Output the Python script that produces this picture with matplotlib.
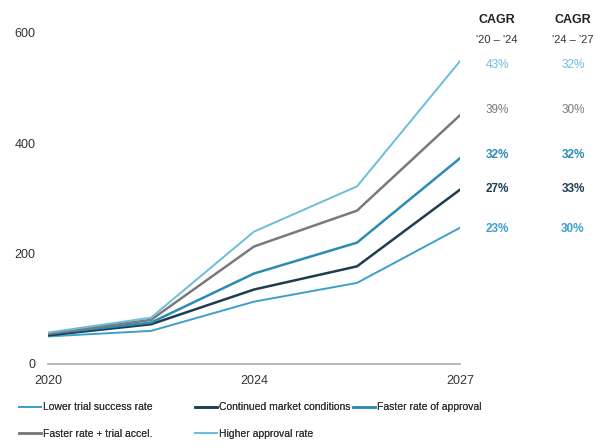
import numpy as np
import matplotlib.pyplot as plt

plt.rcParams['font.family'] = ['Liberation Sans', 'DejaVu Sans']

# %%
# points on an even spacing, labelled 2020 / 2024 / 2027
x_idx = [0, 1, 2, 3, 4]
tick_pos = [0, 2, 4]
tick_labels = ['2020', '2024', '2027']

names = ['Lower trial success rate', 'Continued market conditions',
         'Faster rate of approval', 'Faster rate + trial accel.',
         'Higher approval rate']
lower = [50, 60, 113, 147, 247]
continued = [52, 72, 135, 177, 316]
faster = [55, 75, 164, 220, 373]
faster_trial = [55, 80, 213, 278, 451]
higher = [57, 84, 240, 322, 549]
series = [lower, continued, faster, faster_trial, higher]

colors = ['#3d9fca', '#1d3d52', '#2a8cb4', '#7a7a7a', '#6cbddb']
widths = [1.4, 1.8, 1.8, 1.8, 1.4]

cagr_20_24 = ['23%', '27%', '32%', '39%', '43%']
cagr_24_27 = ['30%', '33%', '32%', '30%', '32%']
label_y = [229, 189, 155, 110, 65]   # pixel rows of the CAGR labels
label_bold = [True, True, True, False, False]

# %%
fig = plt.figure(figsize=(5.96, 4.47), dpi=100)
W, H = 596, 447
ax = fig.add_axes([48 / W, 1 - 364 / H, 412 / W, 331 / H])

handles = []
for vals, c, lw, name in zip(series, colors, widths, names):
    h, = ax.plot(x_idx, vals, color=c, lw=lw, label=name)
    handles.append(h)

ax.set_xlim(0, 4)
ax.set_ylim(0, 600)
ax.set_yticks([0, 200, 400, 600])
ax.set_xticks(tick_pos)
ax.set_xticklabels(tick_labels)
for s in ['top', 'right', 'left']:
    ax.spines[s].set_visible(False)
ax.spines['bottom'].set_color('#aaaaaa')
ax.spines['bottom'].set_linewidth(1.2)
ax.tick_params(axis='both', length=0, labelsize=9, colors='#333333')
ax.tick_params(axis='x', pad=8)
ax.tick_params(axis='y', pad=9)
ax.patch.set_alpha(0)

# CAGR columns
for cx, sub in [(497, "'20 \u2013 '24"), (573, "'24 \u2013 '27")]:
    fig.text(cx / W, 1 - 20 / H, 'CAGR', ha='center', va='center',
             fontsize=9, fontweight='bold', color='#222222')
    fig.text(cx / W, 1 - 40 / H, sub, ha='center', va='center',
             fontsize=8, color='#333333')
for a, b, yy, c, bold in zip(cagr_20_24, cagr_24_27, label_y, colors, label_bold):
    fw = 'bold' if bold else 'normal'
    fig.text(497 / W, 1 - yy / H, a, ha='center', va='center',
             fontsize=8.5, color=c, fontweight=fw)
    fig.text(573 / W, 1 - yy / H, b, ha='center', va='center',
             fontsize=8.5, color=c, fontweight=fw)

# legend as three columns placed by hand
cols = [([0, 3], 10), ([1, 4], 186), ([2], 344)]
for idx, px in cols:
    leg = fig.legend([handles[i] for i in idx], [names[i] for i in idx],
                     loc='upper left', bbox_to_anchor=(px / W, 1 - 393 / H),
                     frameon=False, fontsize=7.5, handlelength=2.1,
                     handletextpad=0.2, labelspacing=1.55,
                     labelcolor='#333333')
    fig.add_artist(leg)

plt.savefig('out.png', dpi=100)
